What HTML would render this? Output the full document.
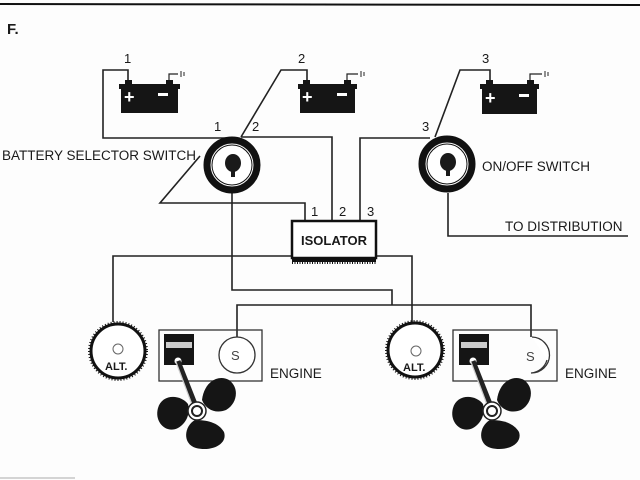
<!DOCTYPE html>
<html><head><style>
html,body{margin:0;padding:0;background:#fff;}
svg{display:block;}
text{font-family:"Liberation Sans",sans-serif;fill:#1a1a1a;}
</style></head><body>
<svg width="640" height="480" viewBox="0 0 640 480" xmlns="http://www.w3.org/2000/svg">
<rect width="640" height="480" fill="#fdfdfd"/>
<line x1="0" y1="4" x2="640" y2="5" stroke="#111" stroke-width="2"/>
<text x="7" y="34" font-family="Liberation Serif" font-weight="bold" font-size="15">F.</text>

<g fill="none" stroke="#222" stroke-width="1.6">
<polyline points="128,83 128,70 103,70 103,138 232,138"/>
<polyline points="307,83 307,70 281,70 241,137"/>
<polyline points="241,137 332,137 332,220"/>
<polyline points="305,220 305,203 160,203 200,156"/>
<polyline points="490,83 490,70 460,70 435,137"/>
<polyline points="360,220 360,138 430,138"/>
<polyline points="232,193 232,290 392,290 392,305"/>
<polyline points="237,337 237,305 531,305 531,337"/>
<polyline points="292,256 113,256 113,322"/>
<polyline points="376,256 412,256 412,322"/>
<polyline points="448,193 448,236 628,236"/>
</g>

<g>
<rect x="121" y="84" width="57" height="29" fill="#151515"/>
<rect x="119" y="84" width="61" height="5" fill="#151515"/>
<rect x="125" y="80" width="7" height="5" fill="#151515"/>
<rect x="166" y="80" width="7" height="5" fill="#151515"/>
<text x="124" y="103" font-size="18" font-weight="bold" style="fill:#fff">+</text>
<rect x="158" y="93" width="10" height="3" fill="#fff"/>
<polyline points="169,80 169,74 178,74" fill="none" stroke="#222" stroke-width="1.2"/>
<line x1="181" y1="71" x2="181" y2="77" stroke="#222"/><line x1="184" y1="72" x2="184" y2="76" stroke="#222"/>

<rect x="300" y="84" width="55" height="29" fill="#151515"/>
<rect x="298" y="84" width="59" height="5" fill="#151515"/>
<rect x="303" y="80" width="7" height="5" fill="#151515"/>
<rect x="344" y="80" width="7" height="5" fill="#151515"/>
<text x="302" y="103" font-size="18" font-weight="bold" style="fill:#fff">+</text>
<rect x="337" y="93" width="10" height="3" fill="#fff"/>
<polyline points="347,80 347,74 358,74" fill="none" stroke="#222" stroke-width="1.2"/>
<line x1="361" y1="71" x2="361" y2="77" stroke="#222"/><line x1="364" y1="72" x2="364" y2="76" stroke="#222"/>

<rect x="482" y="84" width="55" height="30" fill="#151515"/>
<rect x="480" y="84" width="59" height="5" fill="#151515"/>
<rect x="486" y="80" width="7" height="5" fill="#151515"/>
<rect x="527" y="80" width="7" height="5" fill="#151515"/>
<text x="485" y="104" font-size="18" font-weight="bold" style="fill:#fff">+</text>
<rect x="519" y="94" width="10" height="3" fill="#fff"/>
<polyline points="530,80 530,74 542,74" fill="none" stroke="#222" stroke-width="1.2"/>
<line x1="545" y1="71" x2="545" y2="77" stroke="#222"/><line x1="548" y1="72" x2="548" y2="76" stroke="#222"/>
</g>

<g font-size="13">
<text x="124" y="63">1</text>
<text x="298" y="63">2</text>
<text x="482" y="63">3</text>
<text x="214" y="131">1</text>
<text x="252" y="131">2</text>
<text x="422" y="131">3</text>
<text x="311" y="216">1</text>
<text x="339" y="216">2</text>
<text x="367" y="216">3</text>
</g>
<text x="2" y="160" font-size="13.5">BATTERY SELECTOR SWITCH</text>
<text x="482" y="171" font-size="13.5">ON/OFF SWITCH</text>
<text x="505" y="231" font-size="13.5">TO DISTRIBUTION</text>
<text x="270" y="378" font-size="13.5">ENGINE</text>
<text x="565" y="378" font-size="13.5">ENGINE</text>

<g>
<circle cx="232" cy="165" r="25" fill="none" stroke="#111" stroke-width="7"/>
<circle cx="232" cy="165" r="20" fill="#fff" stroke="#111" stroke-width="1"/>
<ellipse cx="233" cy="163" rx="8" ry="9" fill="#1a1a1a"/>
<rect x="231" y="165" width="4" height="12" fill="#1a1a1a"/>
<circle cx="447" cy="164" r="25" fill="none" stroke="#111" stroke-width="7"/>
<circle cx="447" cy="164" r="20" fill="#fff" stroke="#111" stroke-width="1"/>
<ellipse cx="448" cy="162" rx="8" ry="9" fill="#1a1a1a"/>
<rect x="446" y="164" width="4" height="12" fill="#1a1a1a"/>
</g>

<rect x="292" y="221" width="84" height="37" fill="#fff" stroke="#111" stroke-width="2.5"/>
<rect x="292" y="257" width="84" height="5" fill="#111"/>
<line x1="292" y1="263" x2="376" y2="263" stroke="#111" stroke-width="2" stroke-dasharray="1,1.5"/>
<text x="301" y="245" font-size="13" font-weight="bold">ISOLATOR</text>

<g>
<circle cx="118" cy="351" r="27" fill="#fff" stroke="#111" stroke-width="3"/>
<circle cx="118" cy="351" r="29" fill="none" stroke="#111" stroke-width="2" stroke-dasharray="1,2"/>
<circle cx="118" cy="349" r="5" fill="none" stroke="#666" stroke-width="1"/>
<text x="105" y="370" font-size="11" font-weight="bold">ALT.</text>
<circle cx="415" cy="350" r="27" fill="#fff" stroke="#111" stroke-width="3"/>
<circle cx="415" cy="350" r="29" fill="none" stroke="#111" stroke-width="2" stroke-dasharray="1,2"/>
<circle cx="416" cy="351" r="5" fill="none" stroke="#666" stroke-width="1"/>
<text x="403" y="371" font-size="11" font-weight="bold">ALT.</text>
</g>

<g fill="none" stroke="#333" stroke-width="1.3">
<rect x="159" y="330" width="103" height="51"/>
<rect x="453" y="330" width="104" height="51"/>
<circle cx="237" cy="355" r="18" fill="#fff"/>
<path d="M532,337 A18,18 0 1,1 531,373 A18,18 0 0,0 547,360" fill="#fff"/>
</g>
<text x="231" y="360" font-size="13" style="fill:#444">S</text>
<text x="526" y="361" font-size="13" style="fill:#444">S</text>

<g id="eng1">
<rect x="164" y="334" width="30" height="31" fill="#151515"/>
<rect x="166" y="342" width="26" height="6" fill="#ccc"/>
<circle cx="178" cy="361" r="3.5" fill="#fff"/>
<line x1="178" y1="361" x2="197" y2="409" stroke="#222" stroke-width="5"/>
<line x1="176" y1="362" x2="194" y2="410" stroke="#ccc" stroke-width="1.2"/>
<path d="M202,400 C204,382 218,374 229,380 C240,388 237,404 226,410 C216,414 206,410 202,400Z" fill="#151515"/>
<path d="M188,404 C180,394 162,394 158,408 C154,422 166,434 178,428 C188,422 190,412 188,404Z" fill="#151515"/>
<path d="M195,420 C184,426 182,444 196,448 C212,452 228,444 224,432 C218,422 206,420 195,420Z" fill="#151515"/>
<circle cx="197" cy="411" r="9" fill="#fff" stroke="#222" stroke-width="1.5"/>
<circle cx="197" cy="411" r="5" fill="#fff" stroke="#222" stroke-width="2"/>
</g>
<use href="#eng1" transform="translate(295,0)"/>

<line x1="0" y1="478" x2="75" y2="478" stroke="#aaa" stroke-width="1"/>
</svg>
</body></html>
